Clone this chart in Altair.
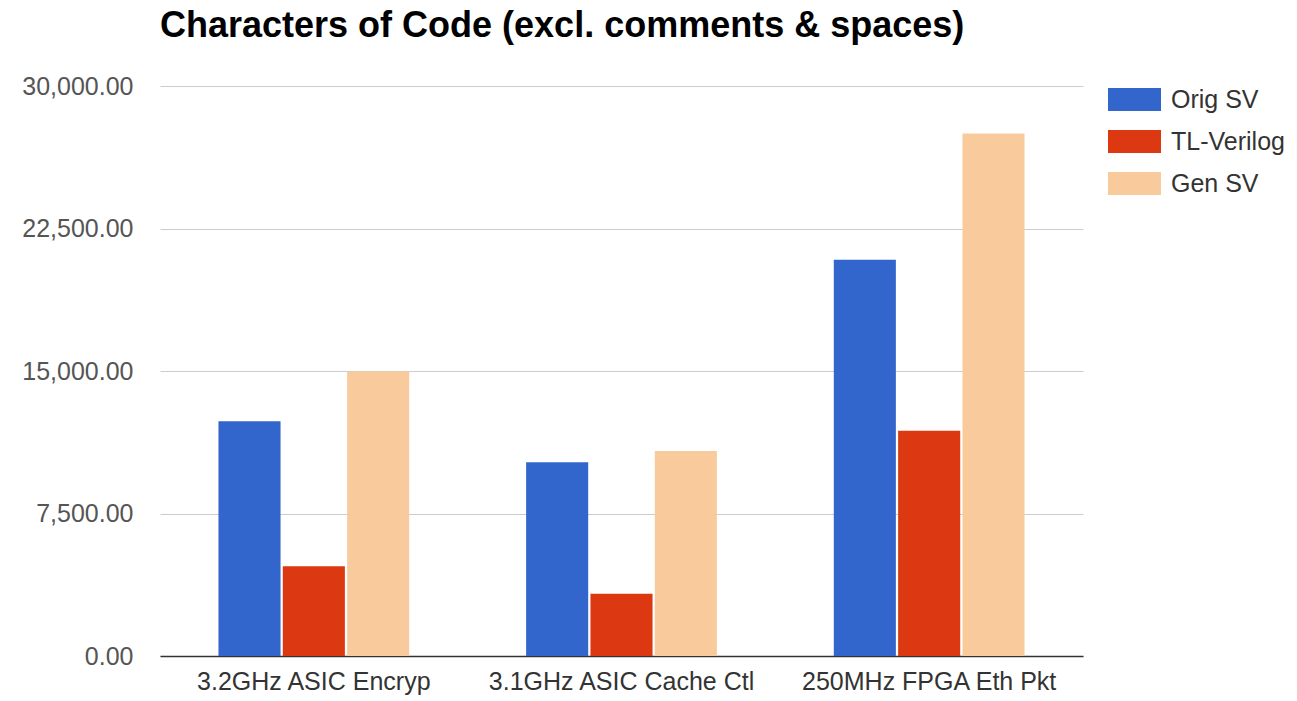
import altair as alt
import pandas as pd

categories = ["3.2GHz ASIC Encryp", "3.1GHz ASIC Cache Ctl", "250MHz FPGA Eth Pkt"]
series = ["Orig SV", "TL-Verilog", "Gen SV"]
orig_sv = [12350, 10200, 20850]
tl_verilog = [4720, 3270, 11850]
gen_sv = [14970, 10790, 27500]
colors = ["#3366cc", "#dc3912", "#f9cb9c"]
y_ticks = [0, 7500, 15000, 22500, 30000]

rows = []
for i, c in enumerate(categories):
    for s, vals in zip(series, [orig_sv, tl_verilog, gen_sv]):
        rows.append({"category": c, "series": s, "value": vals[i]})
df = pd.DataFrame(rows)

FONT = "Liberation Sans"

chart = alt.Chart(df).mark_bar().encode(
    x=alt.X("category:N", sort=categories,
            scale=alt.Scale(paddingInner=0.38, paddingOuter=0.19),
            axis=alt.Axis(title=None, labelAngle=0, ticks=False, domainColor="#333333",
                          domainWidth=1.5, labelFontSize=25, labelColor="#333333",
                          labelPadding=13, labelFont=FONT, labelLimit=0, grid=False)),
    xOffset=alt.XOffset("series:N", sort=series, scale=alt.Scale(paddingInner=0.035)),
    y=alt.Y("value:Q", scale=alt.Scale(domain=[0, 30000]),
            axis=alt.Axis(values=y_ticks, format=",.2f", title=None, ticks=False, domain=False,
                          gridColor="#cccccc", labelFontSize=25, labelColor="#555555",
                          labelPadding=27, labelFont=FONT)),
    color=alt.Color("series:N", sort=series,
                    scale=alt.Scale(domain=series, range=colors),
                    legend=alt.Legend(title=None, orient="none", legendX=948, legendY=-13,
                                      symbolType="M-1,-0.434H1V0.434H-1Z", symbolSize=2809,
                                      symbolStrokeWidth=0, symbolOpacity=1,
                                      labelFontSize=25, labelColor="#333333", labelFont=FONT,
                                      labelOffset=10, rowPadding=2)),
).properties(
    width=923, height=570,
    background="white",
    title=alt.TitleParams("Characters of Code (excl. comments & spaces)", anchor="start",
                          frame="group", font=FONT, fontSize=36, fontWeight="bold",
                          color="#000000", offset=28),
    autosize=alt.AutoSizeParams(type="none"),
    padding={"left": 160, "top": 86, "right": 214, "bottom": 45},
).configure_view(stroke=None)

chart.save("out.html", embed_options={"renderer": "svg", "actions": False})
